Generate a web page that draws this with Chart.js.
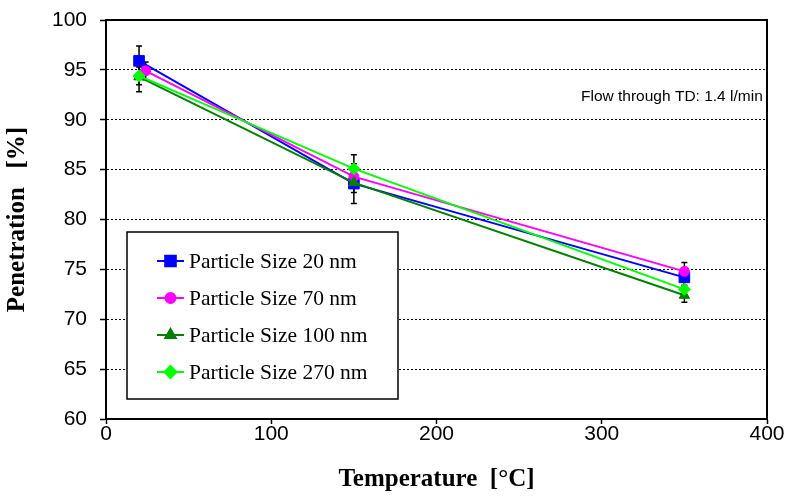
<!DOCTYPE html>
<html>
<head>
<meta charset="utf-8">
<script src="https://cdn.jsdelivr.net/npm/chart.js@4.4.1/dist/chart.umd.min.js"></script>
<style>
  html, body { margin: 0; padding: 0; background: #fff; }
</style>
</head>
<body>
<canvas id="chart" width="802" height="496"></canvas>
<script>
// dados
const seriesNames = ['Particle Size 20 nm', 'Particle Size 70 nm', 'Particle Size 100 nm', 'Particle Size 270 nm'];
const temp20 = [20, 150, 350];
const temp70 = [24, 150, 350];
const temp100 = [20, 150, 350];
const temp270 = [20, 150, 350];
const pen20 = [95.9, 83.6, 74.2];
const pen70 = [94.9, 84.3, 74.8];
const pen100 = [94.3, 83.7, 72.4];
const pen270 = [94.4, 85.1, 73.0];
const err20 = [1.5, 2.0, 0.8];
const err70 = [0.9, 0.8, 0.9];
const err100 = [1.5, 1.0, 0.7];
const err270 = [0.9, 1.4, 0.8];
const xTicks = [0, 100, 200, 300, 400];
const yTicks = [60, 65, 70, 75, 80, 85, 90, 95, 100];
const note = 'Flow through TD: 1.4 l/min';

const colors = ['#0000ff', '#ff00ff', '#008000', '#00ff00'];
const shapes = ['rect', 'circle', 'triangle', 'rectRot'];
const radii = [7.5, 5, 6, 6];
const temps = [temp20, temp70, temp100, temp270];
const pens = [pen20, pen70, pen100, pen270];
const errs = [err20, err70, err100, err270];

const datasets = seriesNames.map((name, i) => ({
  label: name,
  data: temps[i].map((t, j) => ({ x: t, y: pens[i][j] })),
  errors: errs[i],
  borderColor: colors[i],
  backgroundColor: colors[i],
  borderWidth: 2,
  pointStyle: shapes[i],
  pointRadius: radii[i],
  pointBorderWidth: 1,
  tension: 0,
  order: 4 - i
}));

// barras de erro
const errorBars = {
  id: 'errorBars',
  beforeDatasetsDraw(chart) {
    const { ctx, scales: { x, y } } = chart;
    ctx.save();
    ctx.strokeStyle = '#000';
    ctx.lineWidth = 1.5;
    chart.data.datasets.forEach(ds => {
      ds.data.forEach((p, j) => {
        const e = ds.errors[j];
        const px = x.getPixelForValue(p.x);
        const top = y.getPixelForValue(p.y + e);
        const bot = y.getPixelForValue(p.y - e);
        ctx.beginPath();
        ctx.moveTo(px, top); ctx.lineTo(px, bot);
        ctx.moveTo(px - 3, top); ctx.lineTo(px + 3, top);
        ctx.moveTo(px - 3, bot); ctx.lineTo(px + 3, bot);
        ctx.stroke();
      });
    });
    ctx.restore();
  }
};

// moldura, legenda e texto
const extras = {
  id: 'extras',
  afterDraw(chart) {
    const { ctx, chartArea: a } = chart;
    ctx.save();
    ctx.strokeStyle = '#000';
    ctx.lineWidth = 2;
    ctx.beginPath();
    ctx.moveTo(a.left, a.top); ctx.lineTo(a.right, a.top); ctx.lineTo(a.right, a.bottom);
    ctx.stroke();

    ctx.fillStyle = '#000';
    ctx.font = '15.5px "Liberation Sans", Arial, sans-serif';
    ctx.textAlign = 'left';
    ctx.textBaseline = 'middle';
    ctx.fillText(note, 581, 97);

    const bx = 127, by = 232, bw = 271, bh = 167;
    ctx.fillStyle = '#fff';
    ctx.fillRect(bx, by, bw, bh);
    ctx.lineWidth = 1.5;
    ctx.strokeRect(bx, by, bw, bh);
    ctx.font = '21.5px "Liberation Serif", "Times New Roman", serif';
    chart.data.datasets.forEach((ds, i) => {
      const cy = 261 + i * 37;
      ctx.strokeStyle = ds.borderColor;
      ctx.lineWidth = 2;
      ctx.beginPath();
      ctx.moveTo(157, cy); ctx.lineTo(184, cy);
      ctx.stroke();
      ctx.fillStyle = ds.backgroundColor;
      Chart.helpers.drawPoint(ctx, { pointStyle: ds.pointStyle, radius: ds.pointRadius, borderWidth: 1 }, 170.5, cy);
      ctx.fillStyle = '#000';
      ctx.fillText(ds.label, 189, cy + 1);
    });
    ctx.restore();
  }
};

const sansTick = { family: '"Liberation Sans", Arial, sans-serif', size: 21 };
const serifTitle = { family: '"Liberation Serif", "Times New Roman", serif', size: 25, weight: 'bold' };

new Chart(document.getElementById('chart'), {
  type: 'line',
  data: { datasets },
  options: {
    responsive: false,
    animation: false,
    devicePixelRatio: 1,
    layout: { padding: { top: 20, right: 35, left: 0, bottom: 0 } },
    plugins: { legend: { display: false }, tooltip: { enabled: false } },
    scales: {
      x: {
        type: 'linear',
        min: 0, max: 400,
        afterBuildTicks: s => { s.ticks = xTicks.map(v => ({ value: v })); },
        afterFit: s => { s.height = 77; s.paddingLeft = 0; s.paddingRight = 0; },
        ticks: { font: sansTick, color: '#000', padding: -2, maxRotation: 0 },
        grid: { drawOnChartArea: false, drawTicks: true, tickLength: 5, tickColor: '#000', tickWidth: 1.5 },
        border: { display: true, color: '#000', width: 2 },
        title: { display: true, text: 'Temperature  [°C]', font: serifTitle, color: '#000', padding: { top: 0, bottom: 1 } }
      },
      y: {
        min: 60, max: 100,
        afterBuildTicks: s => { s.ticks = yTicks.map(v => ({ value: v })); },
        afterFit: s => { s.width = 106; s.paddingTop = 0; s.paddingBottom = 0; },
        ticks: { font: sansTick, color: '#000', padding: 13 },
        grid: { color: '#000', lineWidth: 1, tickLength: 6, tickColor: '#000', tickWidth: 1.5, tickBorderDash: [1, 0] },
        border: { display: true, color: '#000', width: 2, dash: [2, 2] },
        title: { display: true, text: 'Penetration   [%]', font: serifTitle, color: '#000', padding: { top: 3, bottom: 0 } }
      }
    }
  },
  plugins: [errorBars, extras]
});
</script>
</body>
</html>
